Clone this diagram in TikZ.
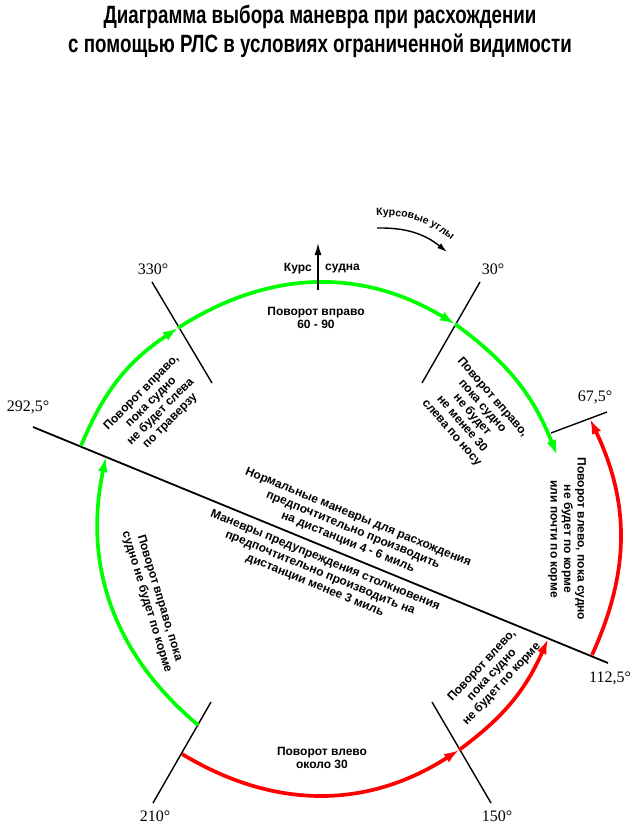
\documentclass[tikz,border=0pt]{standalone}
\usepackage{fontspec}
\setmainfont{Liberation Sans}
\newfontfamily\degfont{Liberation Serif}
\newfontfamily\titlefont[FakeStretch=0.75]{Liberation Sans}
\usetikzlibrary{arrows.meta,decorations.text}

\begin{document}
\begin{tikzpicture}[
      x=1pt, y=-1pt,
      >={Latex[length=15pt,width=10pt]},
      tick/.style={line width=1.4pt},
      gturn/.style={draw=green, line width=3.7pt, ->},
      rturn/.style={draw=red, line width=3.7pt, ->},
      deg/.style={font=\degfont\fontsize{16}{16}\selectfont, inner sep=0pt},
      lbl/.style={font=\bfseries\fontsize{12}{13.5}\selectfont, align=center, inner sep=0pt},
    ]
    \useasboundingbox (0,0) rectangle (640,836);

    % Title
    \node[font=\titlefont\bfseries\fontsize{25}{29}\selectfont, align=center] (title) at (320,31)
      {Диаграмма выбора маневра при расхождении\\с помощью РЛС в условиях ограниченной видимости};

    % Bearing ticks
    \coordinate (t330a) at (152,282); \coordinate (t330b) at (212,383);
    \coordinate (t30a) at (480,282);  \coordinate (t30b) at (422,383);
    \coordinate (t292) at (33,427);   \coordinate (t112) at (608,663);
    \coordinate (t67a) at (551,433);  \coordinate (t67b) at (607,412);
    \coordinate (t150a) at (432,702); \coordinate (t150b) at (491,803);
    \coordinate (t210a) at (211,702); \coordinate (t210b) at (153,803);
    \draw[tick] (t330a) -- (t330b);
    \draw[tick] (t30a) -- (t30b);
    \draw[line width=1.8pt] (t292) -- (t112);
    \draw[tick] (t67a) -- (t67b);
    \draw[tick] (t150a) -- (t150b);
    \draw[tick] (t210a) -- (t210b);

    \node[deg] (l330) at (153,269) {330°};
    \node[deg] (l30) at (493,269) {30°};
    \node[deg] (l292) at (28,407) {292,5°};
    \node[deg] (l67) at (595,397) {67,5°};
    \node[deg] (l112) at (610,678) {112,5°};
    \node[deg] (l210) at (155,816) {210°};
    \node[deg] (l150) at (497,816) {150°};

    % Turning arcs
    \coordinate (p330) at (178,328);
    \coordinate (p30) at (455,324);
    \coordinate (pL) at (81,446);
    \coordinate (pLtip) at (106,457);
    \coordinate (p210g) at (198,725);
    \coordinate (p210r) at (182,754);
    \coordinate (p150) at (459,750);
    \coordinate (p112i) at (548,639);
    \coordinate (p112o) at (592,655);
    \coordinate (p67) at (590,419);
    \coordinate (gend) at (557,455);
    \draw[gturn] (p210g) to[bend left=31] (pLtip);
    \draw[gturn] (pL) to[bend left=17] (p330);
    \draw[gturn] (p330) to[bend left=32] (p30);
    \draw[gturn] (p30) to[bend left=16] (gend);
    \draw[rturn] (p210r) to[bend right=32] (p150);
    \draw[rturn] (p150) to[bend right=15] (p112i);
    \draw[rturn] (p112o) to[bend right=25] (p67);

    % Course
    \coordinate (cbase) at (318,290);
    \coordinate (ctip) at (318,243);
    \draw[line width=1.4pt, -{Latex[length=12pt,width=7pt]}] (cbase) -- (ctip);
    \node[lbl, anchor=east] (kurs) at (312,269) {Курс};
    \node[lbl, anchor=west] (sudna) at (325,269) {судна};

    % Relative bearings
    \coordinate (ka) at (377,228);
    \coordinate (kb) at (447,252);
    \draw[line width=1.4pt, -{Latex[length=10pt,width=6pt]}] (ka) to[bend left=20] (kb);
    \path[decorate, decoration={text along path, text align=center,
        text={|\bfseries\fontsize{10.5}{10.5}\selectfont|Курсовые углы}}]
      (374,216) to[bend left=22] (453,242);

    % Texts
    \node[lbl] (txT) at (316,318) {Поворот вправо\\60 - 90};
    \node[lbl] (txB) at (322,758) {Поворот влево\\около 30};
    \node[lbl, rotate=45] (txL1) at (156,407) {Поворот вправо,\\пока судно\\не будет слева\\по траверзу};
    \node[lbl, rotate=-49] (txR1) at (472,415) {Поворот вправо,\\пока судно\\не будет\\не менее 30\\слева по носу};
    \node[lbl, rotate=-90] (txR2) at (567,539) {Поворот влево, пока судно\\не будет по корме\\или почти по корме};
    \node[lbl, rotate=-73] (txL2) at (153,600) {Поворот вправо, пока\\судно не будет по корме};
    \node[lbl, rotate=47] (txR3) at (492,675) {Поворот влево,\\пока судно\\не будет по корме};
    \node[lbl, rotate=-22.3] (norm) at (353,530) {Нормальные маневры для расхождения\\предпочтительно производить\\на дистанции 4 - 6 миль};
    \node[lbl, rotate=-22.3] (warn) at (320,573) {Маневры предупреждения столкновения\\предпочтительно производить на\\дистанции менее 3 миль};
  \end{tikzpicture}
\end{document}
